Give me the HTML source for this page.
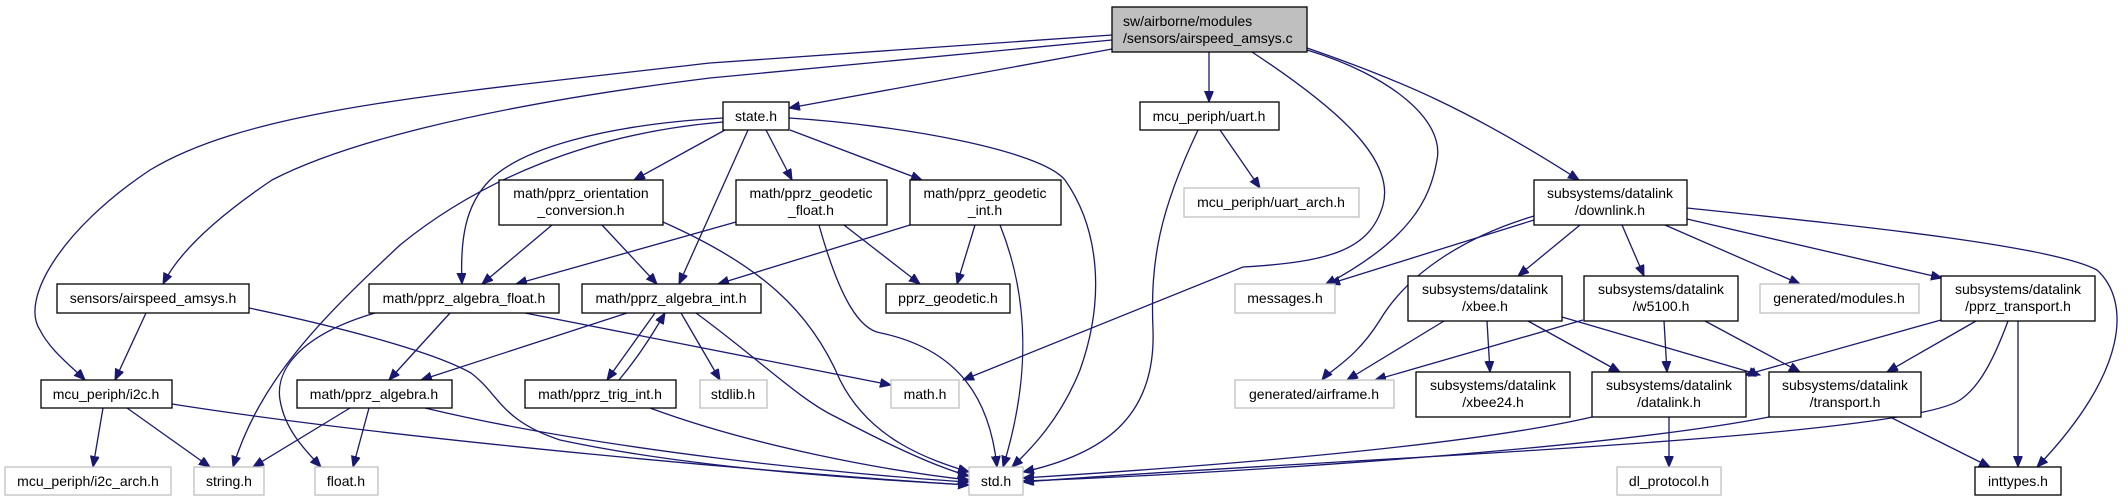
<!DOCTYPE html>
<html><head><meta charset="utf-8"><style>
html,body{margin:0;padding:0;background:#fff;}
svg{display:block}
text{font-family:"Liberation Sans",sans-serif;font-size:14px;fill:#000;}
.e{fill:none;stroke:#191970;stroke-width:1.3}
.n{fill:#fff;stroke:#000;stroke-width:1.3}
.g{fill:#fff;stroke:#bfbfbf;stroke-width:1.3}
</style></head><body>
<svg width="2128" height="501" viewBox="0 0 2128 501" xmlns="http://www.w3.org/2000/svg">
<defs><marker id="a" markerUnits="userSpaceOnUse" markerWidth="12" markerHeight="10" refX="11" refY="4.5" orient="auto"><path d="M0,0 L11,4.5 L0,9 z" fill="#191970" stroke="#191970"/></marker></defs>
<g class="e" marker-end="url(#a)">
<path d="M1112,49 L789,108"/>
<path d="M1209,52 L1209,102"/>
<path d="M1112,35 L710,63 C430,95 250,110 150,170 C60,230 20,300 40,330 C50,350 70,365 85,380"/>
<path d="M1112,40 L710,78 C453,110 330,150 272,180 C220,215 180,250 163,284"/>
<path d="M1252,52 C1340,110 1395,160 1383,205 C1370,250 1330,262 1243,267 L963,380"/>
<path d="M1307,50 C1390,75 1445,120 1437,160 C1430,200 1410,240 1325,285"/>
<path d="M1307,48 C1400,80 1470,110 1579,180"/>
<path d="M1198,130 C1160,210 1150,260 1153,330 C1156,420 1100,455 1023,472"/>
<path d="M1220,130 L1260,188"/>
<path d="M725,130 L634,180"/>
<path d="M723,118 C600,125 520,150 490,180 C465,205 460,240 462,284"/>
<path d="M723,122 C590,133 480,180 400,245 C320,320 260,380 233,467"/>
<path d="M748,130 L679,284"/>
<path d="M766,130 L792,180"/>
<path d="M790,130 L922,180"/>
<path d="M789,118 C900,125 1040,150 1065,180 C1100,230 1105,300 1080,370 C1060,420 1030,450 1012,467"/>
<path d="M552,225 L482,284"/>
<path d="M602,225 L657,284"/>
<path d="M663,222 C760,265 810,310 840,380 C870,440 930,460 969,472"/>
<path d="M736,222 L516,284"/>
<path d="M844,225 L920,284"/>
<path d="M819,225 C840,300 860,330 881,333 C960,350 990,400 997,467"/>
<path d="M910,225 L718,284"/>
<path d="M975,225 L957,284"/>
<path d="M1000,225 C1030,300 1030,380 1003,467"/>
<path d="M146,313 L115,380"/>
<path d="M249,308 C330,325 430,350 471,373 C500,395 500,420 560,440 C700,470 880,480 969,485"/>
<path d="M375,313 C300,335 275,370 280,400 C285,430 305,450 321,467"/>
<path d="M450,313 L389,380"/>
<path d="M525,313 L891,385"/>
<path d="M627,313 L421,380"/>
<path d="M655,313 L607,380"/>
<path d="M619,380 C640,355 655,330 665,313"/>
<path d="M681,313 L720,380"/>
<path d="M696,313 C760,360 800,400 836,417 C880,440 930,465 969,476"/>
<path d="M103,408 L93,467"/>
<path d="M127,408 L210,467"/>
<path d="M172,404 C400,440 800,475 969,485"/>
<path d="M350,408 L253,467"/>
<path d="M369,408 L353,467"/>
<path d="M425,408 C600,450 850,475 969,482"/>
<path d="M650,408 C750,445 880,470 969,480"/>
<path d="M1534,220 L1329,284"/>
<path d="M1534,216 C1470,235 1410,270 1380,320 C1355,360 1330,370 1322,380"/>
<path d="M1580,225 L1518,276"/>
<path d="M1622,225 L1644,276"/>
<path d="M1665,225 L1800,284"/>
<path d="M1687,219 L1942,278"/>
<path d="M1687,208 C1850,225 2050,245 2097,270 C2130,300 2130,370 2037,467"/>
<path d="M1444,321 L1347,380"/>
<path d="M1487,321 L1490,372"/>
<path d="M1528,321 L1620,372"/>
<path d="M1562,317 L1760,375"/>
<path d="M1583,320 L1375,380"/>
<path d="M1664,321 L1667,372"/>
<path d="M1705,321 L1800,372"/>
<path d="M1941,320 L1745,375"/>
<path d="M1976,321 L1887,372"/>
<path d="M2008,321 C1990,370 1975,390 1960,400 C1900,440 1300,460 1023,482"/>
<path d="M2018,321 L2018,467"/>
<path d="M1592,417 C1450,450 1150,470 1023,478"/>
<path d="M1669,417 L1669,467"/>
<path d="M1769,417 C1600,450 1200,475 1023,481"/>
<path d="M1890,417 L1990,467"/>
</g>
<rect x="1112" y="7" width="195" height="45" fill="#bfbfbf" stroke="#000" stroke-width="1.3"/>
<text x="1123" y="26">sw/airborne/modules</text><text x="1123" y="43">/sensors/airspeed_amsys.c</text>
<g>
<rect class="n" x="723" y="102" width="66" height="28"/><text x="756" y="121" text-anchor="middle">state.h</text>
<rect class="n" x="1140" y="102" width="139" height="28"/><text x="1209" y="121" text-anchor="middle">mcu_periph/uart.h</text>
<rect class="n" x="499" y="180" width="164" height="45"/><text x="581" y="198" text-anchor="middle">math/pprz_orientation</text><text x="581" y="215" text-anchor="middle">_conversion.h</text>
<rect class="n" x="736" y="180" width="151" height="45"/><text x="811" y="198" text-anchor="middle">math/pprz_geodetic</text><text x="811" y="215" text-anchor="middle">_float.h</text>
<rect class="n" x="910" y="180" width="151" height="45"/><text x="985" y="198" text-anchor="middle">math/pprz_geodetic</text><text x="985" y="215" text-anchor="middle">_int.h</text>
<rect class="g" x="1184" y="188" width="175" height="29"/><text x="1271" y="207" text-anchor="middle">mcu_periph/uart_arch.h</text>
<rect class="n" x="1534" y="180" width="153" height="45"/><text x="1610" y="198" text-anchor="middle">subsystems/datalink</text><text x="1610" y="215" text-anchor="middle">/downlink.h</text>
<rect class="n" x="57" y="284" width="192" height="29"/><text x="153" y="303" text-anchor="middle">sensors/airspeed_amsys.h</text>
<rect class="n" x="369" y="284" width="190" height="29"/><text x="464" y="303" text-anchor="middle">math/pprz_algebra_float.h</text>
<rect class="n" x="582" y="284" width="179" height="29"/><text x="671" y="303" text-anchor="middle">math/pprz_algebra_int.h</text>
<rect class="n" x="886" y="284" width="124" height="29"/><text x="948" y="303" text-anchor="middle">pprz_geodetic.h</text>
<rect class="g" x="1235" y="284" width="100" height="29"/><text x="1285" y="303" text-anchor="middle">messages.h</text>
<rect class="n" x="1408" y="276" width="154" height="45"/><text x="1485" y="294" text-anchor="middle">subsystems/datalink</text><text x="1485" y="311" text-anchor="middle">/xbee.h</text>
<rect class="n" x="1584" y="276" width="154" height="45"/><text x="1661" y="294" text-anchor="middle">subsystems/datalink</text><text x="1661" y="311" text-anchor="middle">/w5100.h</text>
<rect class="g" x="1760" y="284" width="159" height="29"/><text x="1839" y="303" text-anchor="middle">generated/modules.h</text>
<rect class="n" x="1941" y="276" width="154" height="45"/><text x="2018" y="294" text-anchor="middle">subsystems/datalink</text><text x="2018" y="311" text-anchor="middle">/pprz_transport.h</text>
<rect class="n" x="41" y="380" width="131" height="28"/><text x="106" y="399" text-anchor="middle">mcu_periph/i2c.h</text>
<rect class="n" x="297" y="380" width="155" height="28"/><text x="374" y="399" text-anchor="middle">math/pprz_algebra.h</text>
<rect class="n" x="525" y="380" width="151" height="28"/><text x="600" y="399" text-anchor="middle">math/pprz_trig_int.h</text>
<rect class="g" x="700" y="380" width="67" height="28"/><text x="733" y="399" text-anchor="middle">stdlib.h</text>
<rect class="g" x="891" y="380" width="68" height="28"/><text x="925" y="399" text-anchor="middle">math.h</text>
<rect class="g" x="1235" y="380" width="159" height="28"/><text x="1314" y="399" text-anchor="middle">generated/airframe.h</text>
<rect class="n" x="1416" y="372" width="154" height="45"/><text x="1493" y="390" text-anchor="middle">subsystems/datalink</text><text x="1493" y="407" text-anchor="middle">/xbee24.h</text>
<rect class="n" x="1592" y="372" width="154" height="45"/><text x="1669" y="390" text-anchor="middle">subsystems/datalink</text><text x="1669" y="407" text-anchor="middle">/datalink.h</text>
<rect class="n" x="1769" y="372" width="152" height="45"/><text x="1845" y="390" text-anchor="middle">subsystems/datalink</text><text x="1845" y="407" text-anchor="middle">/transport.h</text>
<rect class="g" x="5" y="467" width="166" height="28"/><text x="88" y="486" text-anchor="middle">mcu_periph/i2c_arch.h</text>
<rect class="g" x="194" y="467" width="70" height="28"/><text x="229" y="486" text-anchor="middle">string.h</text>
<rect class="g" x="315" y="467" width="63" height="28"/><text x="346" y="486" text-anchor="middle">float.h</text>
<rect class="g" x="969" y="467" width="54" height="28"/><text x="996" y="486" text-anchor="middle">std.h</text>
<rect class="g" x="1617" y="467" width="104" height="28"/><text x="1669" y="486" text-anchor="middle">dl_protocol.h</text>
<rect class="n" x="1975" y="467" width="86" height="28"/><text x="2018" y="486" text-anchor="middle">inttypes.h</text>
</g>
</svg>
</body></html>
